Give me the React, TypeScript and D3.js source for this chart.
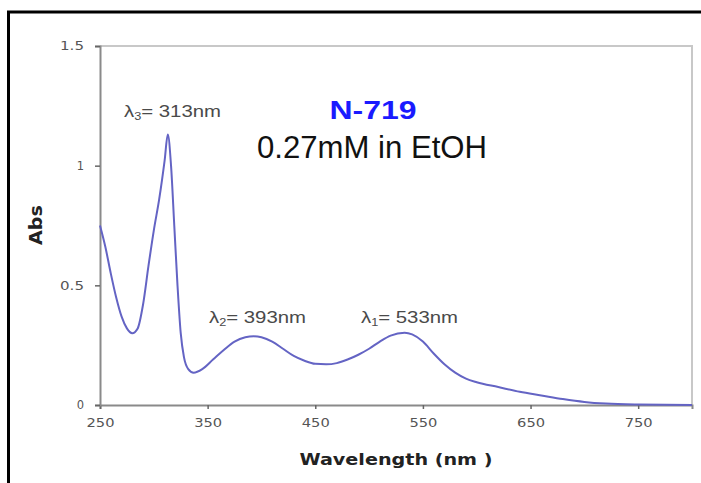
import React, { useRef, useEffect } from 'react'
import * as d3 from 'd3'

// absorbance spectrum (nm, Abs)
const wavelengths = [250, 255, 260, 265, 270, 275, 280, 285, 290, 295, 300, 305, 310, 313, 316, 319, 322, 325, 328, 332, 337, 345, 355, 365, 375, 385, 393, 400, 410, 420, 430, 440, 450, 460, 470, 480, 490, 500, 510, 520, 533, 540, 550, 560, 570, 580, 590, 600, 620, 640, 660, 680, 700, 720, 750, 800]
const absorbance = [0.75, 0.66, 0.55, 0.45, 0.37, 0.32, 0.3, 0.32, 0.42, 0.58, 0.73, 0.86, 1.02, 1.13, 1.0, 0.75, 0.5, 0.3, 0.2, 0.15, 0.135, 0.15, 0.19, 0.23, 0.265, 0.283, 0.287, 0.283, 0.265, 0.235, 0.205, 0.185, 0.172, 0.17, 0.175, 0.19, 0.21, 0.235, 0.265, 0.29, 0.302, 0.295, 0.265, 0.215, 0.17, 0.135, 0.11, 0.095, 0.075, 0.055, 0.04, 0.025, 0.013, 0.006, 0.002, 0]

const xTicks = [250, 350, 450, 550, 650, 750]
const yTicks = [0, 0.5, 1, 1.5]

const peaks = [
    { sub: '3', label: '= 313nm' },
    { sub: '2', label: '= 393nm' },
    { sub: '1', label: '= 533nm' },
]
const peakLabelPos = [
    { x: 124, y: 117 },
    { x: 209, y: 323 },
    { x: 361, y: 323 },
]

export default function App() {
    const svgRef = useRef<SVGSVGElement>(null)

    useEffect(() => {
        if (!svgRef.current) return
        const svg = d3.select(svgRef.current)
        svg.selectAll('*').remove()

        const x = d3.scaleLinear().domain([250, 800]).range([100, 692])
        const y = d3.scaleLinear().domain([0, 1.5]).range([405, 46])

        // outer frame
        svg.append('path')
            .attr('d', 'M8.5,483V12H701')
            .attr('fill', 'none')
            .attr('stroke', '#000')
            .attr('stroke-width', 3)

        // plot area border (top/right)
        svg.append('path')
            .attr('d', `M${x(250)},${y(1.5)}H${x(800)}V${y(0)}`)
            .attr('fill', 'none')
            .attr('stroke', '#c8c8c8')
            .attr('stroke-width', 2)

        const tickFont = (sel: any) => sel
            .attr('fill', '#555')
            .style('font-family', '"DejaVu Sans"')
            .style('font-size', '11.5px')

        // x axis
        const gx = svg.append('g')
            .attr('transform', `translate(0,${y(0)})`)
            .call(d3.axisBottom(x).tickValues(xTicks).tickSize(4).tickPadding(10).tickFormat(d3.format('d')))
        gx.select('.domain').attr('stroke', '#8a8a8a').attr('stroke-width', 2)
        gx.selectAll('.tick line').attr('stroke', '#666').attr('stroke-width', 1.5)
        gx.selectAll('.tick text').call(tickFont)
            .attr('textLength', 28).attr('lengthAdjust', 'spacingAndGlyphs')

        // y axis
        const gy = svg.append('g')
            .attr('transform', `translate(${x(250)},0)`)
            .call(d3.axisLeft(y).tickValues(yTicks).tickSize(5).tickPadding(11).tickFormat((d: any) => String(d)))
        gy.select('.domain').attr('stroke', '#8a8a8a').attr('stroke-width', 2)
        gy.selectAll('.tick line').attr('stroke', '#666').attr('stroke-width', 1.5)
        gy.selectAll('.tick text').call(tickFont)
            .each(function (this: any, d: any) {
                if (String(d).length > 1) d3.select(this).attr('textLength', 24).attr('lengthAdjust', 'spacingAndGlyphs')
            })

        // spectrum
        const data = wavelengths.map((w, i) => [w, absorbance[i]] as [number, number])
        const line = d3.line<[number, number]>()
            .x(d => x(d[0]))
            .y(d => y(d[1]))
            .curve(d3.curveMonotoneX)
        svg.append('path')
            .datum(data)
            .attr('d', line)
            .attr('fill', 'none')
            .attr('stroke', '#6464c4')
            .attr('stroke-width', 2)

        // peak labels
        peaks.forEach((p, i) => {
            const t = svg.append('text')
                .attr('x', peakLabelPos[i].x)
                .attr('y', peakLabelPos[i].y)
                .attr('fill', '#4a4a4a')
                .style('font-family', '"Liberation Sans", Arial')
                .style('font-size', '16px')
                .attr('textLength', 97).attr('lengthAdjust', 'spacingAndGlyphs')
            t.append('tspan').text('λ')
            t.append('tspan').attr('dy', 3).style('font-size', '10px').text(p.sub)
            t.append('tspan').attr('dy', -3).text(p.label)
        })

        // title
        svg.append('text')
            .attr('x', 373).attr('y', 119)
            .attr('text-anchor', 'middle')
            .attr('fill', '#1a1aff')
            .style('font-family', '"Liberation Sans", Arial')
            .style('font-weight', 'bold')
            .style('font-size', '26px')
            .attr('textLength', 87).attr('lengthAdjust', 'spacingAndGlyphs')
            .text('N-719')
        svg.append('text')
            .attr('x', 372).attr('y', 158)
            .attr('text-anchor', 'middle')
            .attr('fill', '#111')
            .style('font-family', '"Liberation Sans", Arial')
            .style('font-size', '31px')
            .attr('textLength', 230).attr('lengthAdjust', 'spacingAndGlyphs')
            .text('0.27mM in EtOH')

        // axis titles
        svg.append('text')
            .attr('x', 396).attr('y', 465)
            .attr('text-anchor', 'middle')
            .attr('fill', '#222')
            .style('font-family', '"DejaVu Sans"')
            .style('font-weight', 'bold')
            .style('font-size', '16px')
            .attr('textLength', 193).attr('lengthAdjust', 'spacingAndGlyphs')
            .text('Wavelength (nm )')
        svg.append('text')
            .attr('transform', 'translate(42,225) rotate(-90)')
            .attr('text-anchor', 'middle')
            .attr('fill', '#222')
            .style('font-family', '"DejaVu Sans"')
            .style('font-weight', 'bold')
            .style('font-size', '17px')
            .attr('textLength', 40).attr('lengthAdjust', 'spacingAndGlyphs')
            .text('Abs')
    }, [])

    return (
        <div style={{ position: 'fixed', left: 0, top: 0, width: 701, height: 483, background: '#fff' }}>
            <svg ref={svgRef} width={701} height={483} />
        </div>
    )
}
